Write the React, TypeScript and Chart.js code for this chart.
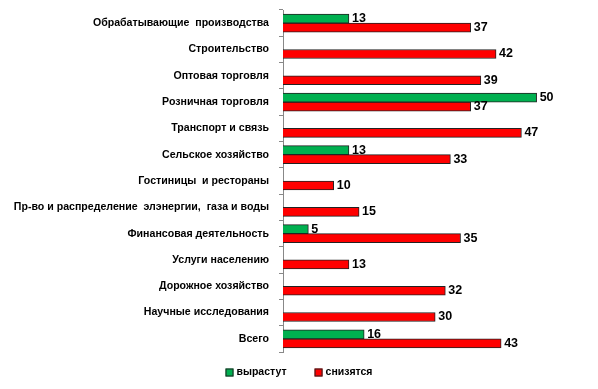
import React, { useEffect, useRef } from "react";
import { Chart, registerables } from "chart.js";

Chart.register(...registerables);

const categories = [
  "Обрабатывающие  производства",
  "Строительство",
  "Оптовая торговля",
  "Розничная торговля",
  "Транспорт и связь",
  "Сельское хозяйство",
  "Гостиницы  и рестораны",
  "Пр-во и распределение  элэнергии,  газа и воды",
  "Финансовая деятельность",
  "Услуги населению",
  "Дорожное хозяйство",
  "Научные исследования",
  "Всего",
];
const growValues: (number | null)[] = [13, null, null, 50, null, 13, null, null, 5, null, null, null, 16];
const dropValues: (number | null)[] = [37, 42, 39, 37, 47, 33, 10, 15, 35, 13, 32, 30, 43];
const seriesNames = ["вырастут", "снизятся"];
const seriesColors = ["#00B050", "#FF0000"];

const FONT = "'Liberation Sans', Arial, sans-serif";

const valueLabels = {
  id: "valueLabels",
  afterDatasetsDraw(chart: any) {
    const ctx = chart.ctx;
    ctx.save();
    ctx.font = `bold 12.5px ${FONT}`;
    ctx.fillStyle = "#000";
    ctx.textBaseline = "middle";
    ctx.textAlign = "left";
    chart.data.datasets.forEach((ds: any, di: number) => {
      const meta = chart.getDatasetMeta(di);
      meta.data.forEach((el: any, i: number) => {
        const v = ds.data[i];
        if (v === null || v === undefined) return;
        ctx.fillText(String(v), el.x + 3, el.y);
      });
    });
    ctx.restore();
  },
};

const customLegend = {
  id: "customLegend",
  afterDraw(chart: any) {
    const ctx = chart.ctx;
    ctx.save();
    ctx.font = `bold 10.5px ${FONT}`;
    ctx.textBaseline = "middle";
    const box = 8;
    const gapText = 3;
    const gapItems = 28;
    const items = chart.data.datasets.map((ds: any) => ({
      label: ds.label,
      color: ds.backgroundColor,
      w: box + gapText + ctx.measureText(ds.label).width,
    }));
    const total = items.reduce((a: number, it: any) => a + it.w, 0) + gapItems * (items.length - 1);
    let x = chart.width / 2 - total / 2;
    const y = 372.5;
    items.forEach((it: any) => {
      ctx.fillStyle = it.color;
      ctx.fillRect(x, y - box / 2, box, box);
      ctx.strokeStyle = "#222";
      ctx.lineWidth = 1;
      ctx.strokeRect(x + 0.5, y - box / 2 + 0.5, box - 1, box - 1);
      ctx.fillStyle = "#000";
      ctx.textAlign = "left";
      ctx.fillText(it.label, x + box + gapText, y);
      x += it.w + gapItems;
    });
    ctx.restore();
  },
};

export default function App() {
  const ref = useRef<HTMLCanvasElement>(null);
  useEffect(() => {
    const chart = new Chart(ref.current!, {
      type: "bar",
      data: {
        labels: categories,
        datasets: [
          {
            label: seriesNames[0],
            data: growValues,
            backgroundColor: seriesColors[0],
            borderColor: "#222",
            borderWidth: 1,
            barThickness: 9,
          },
          {
            label: seriesNames[1],
            data: dropValues,
            backgroundColor: seriesColors[1],
            borderColor: "#222",
            borderWidth: 1,
            barThickness: 9,
          },
        ],
      },
      options: {
        indexAxis: "y",
        animation: false,
        responsive: false,
        maintainAspectRatio: false,
        layout: { padding: { top: 10, right: 36, left: 0, bottom: 37 } },
        scales: {
          x: { display: false, min: 0, max: 55 },
          y: {
            afterFit: (s: any) => {
              s.width = 283;
              s.paddingTop = 0;
              s.paddingBottom = 0;
            },
            border: { display: true, color: "#888" },
            grid: {
              offset: true,
              drawOnChartArea: false,
              drawTicks: true,
              tickLength: 4,
              color: "#888",
            },
            ticks: {
              color: "#000",
              font: { family: FONT, size: 10.6, weight: "bold" },
              padding: 10,
              autoSkip: false,
            },
          },
        },
        plugins: {
          legend: { display: false },
          tooltip: { enabled: false },
        },
      },
      plugins: [valueLabels, customLegend],
    });
    return () => chart.destroy();
  }, []);
  return (
    <div style={{ position: "fixed", left: 0, top: 0, width: 598, height: 389, background: "#fff" }}>
      <canvas ref={ref} width={598} height={389} />
    </div>
  );
}
